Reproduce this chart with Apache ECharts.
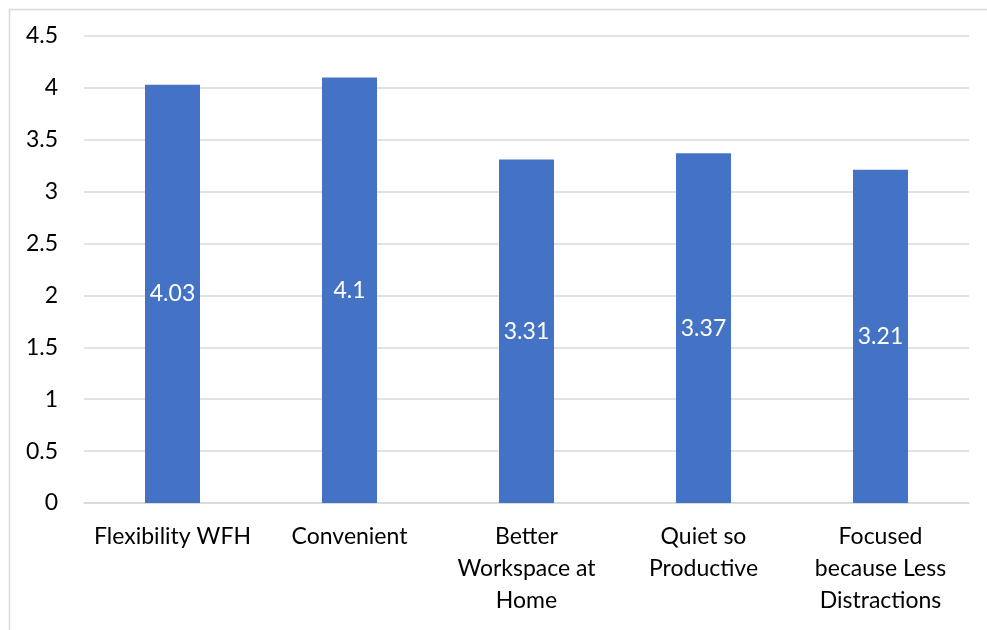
<!DOCTYPE html>
<html>
<head>
<meta charset="utf-8">
<script src="https://cdn.jsdelivr.net/npm/echarts@6/dist/echarts.min.js"></script>
<style>html,body{margin:0;padding:0;background:#fff}#c{width:987px;height:630px}</style>
</head>
<body>
<div id="c"></div>
<script>
var categories = ['Flexibility WFH', 'Convenient', 'Better\nWorkspace at\nHome', 'Quiet so\nProductive', 'Focused\nbecause Less\nDistractions'];
var values = [4.03, 4.1, 3.31, 3.37, 3.21];
var yTicks = [0, 0.5, 1, 1.5, 2, 2.5, 3, 3.5, 4, 4.5];

var chart = echarts.init(document.getElementById('c'), null, {renderer: 'canvas'});
var FONT = 'Lato, "Open Sans", sans-serif';
chart.setOption({
  animation: false,
  backgroundColor: '#fff',
  graphic: [{
    type: 'rect', left: 7, top: 7, silent: true,
    shape: {x: 0, y: 0, width: 1000, height: 700},
    style: {fill: 'none', stroke: '#d9d9d9', lineWidth: 1.5}
  }],
  grid: {left: 84, right: 18, top: 36, bottom: 127, containLabel: false},
  xAxis: {
    type: 'category', data: categories,
    axisLine: {show: true, lineStyle: {color: '#d9d9d9', width: 1.5}},
    axisTick: {show: false},
    axisLabel: {color: '#000', fontFamily: FONT, fontSize: 23, lineHeight: 32, margin: 18, interval: 0}
  },
  yAxis: {
    type: 'value', min: 0, max: 4.5, interval: 0.5,
    axisLine: {show: false}, axisTick: {show: false},
    splitLine: {lineStyle: {color: '#d9d9d9', width: 1.5}},
    axisLabel: {color: '#000', fontFamily: FONT, fontSize: 23, margin: 26,
      formatter: function (v) { return yTicks.indexOf(v) >= 0 ? String(v) : ''; }}
  },
  series: [{
    type: 'bar', data: values, barWidth: 55,
    itemStyle: {color: '#4472C4'},
    label: {show: true, position: 'inside', color: '#fff', fontFamily: FONT, fontSize: 23,
      formatter: function (p) { return String(p.value); }}
  }]
});
</script>
</body>
</html>
